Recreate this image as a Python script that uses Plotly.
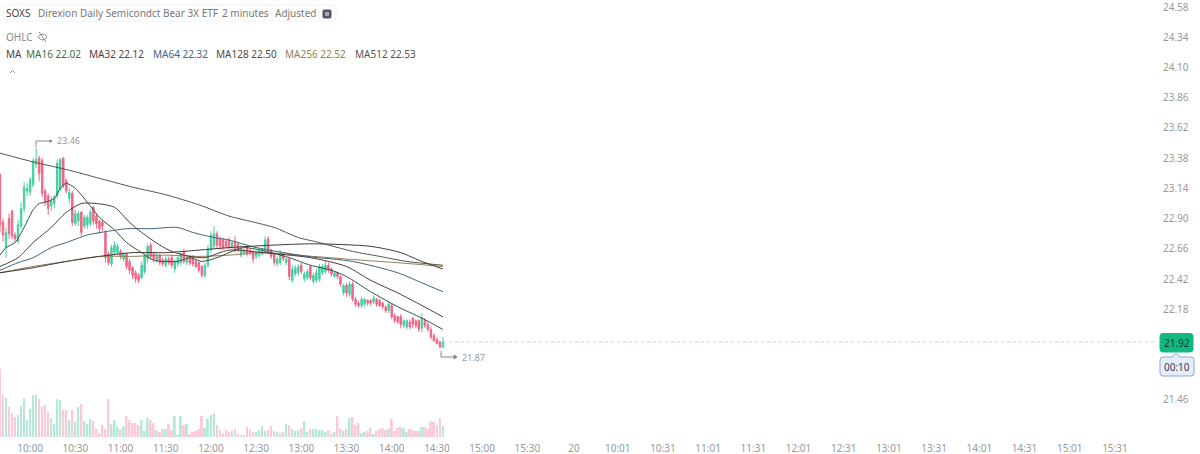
import plotly.graph_objects as go

# one row per 2 minute bar: open, high, low, close
opens = [23.25, 22.87, 22.67, 22.90, 22.96, 22.77, 22.72, 22.84, 22.98, 23.12, 23.11, 23.17, 23.33, 23.38, 23.36, 23.12, 23.08, 23.00, 23.02, 23.08,
         23.14, 23.38, 23.20, 23.06, 23.10, 22.86, 22.88, 22.95, 22.84, 22.85, 22.86, 22.99, 22.92, 22.88, 22.87, 22.79, 22.62, 22.54, 22.63, 22.63,
         22.64, 22.58, 22.62, 22.56, 22.51, 22.47, 22.45, 22.43, 22.48, 22.58, 22.69, 22.62, 22.57, 22.61, 22.57, 22.53, 22.58, 22.59, 22.50, 22.54,
         22.55, 22.64, 22.55, 22.60, 22.60, 22.56, 22.55, 22.52, 22.45, 22.53, 22.65, 22.68, 22.78, 22.74, 22.73, 22.72, 22.73, 22.67, 22.72, 22.70,
         22.61, 22.63, 22.67, 22.65, 22.63, 22.60, 22.61, 22.62, 22.65, 22.74, 22.65, 22.62, 22.54, 22.55, 22.61, 22.55, 22.58, 22.41, 22.46, 22.47,
         22.53, 22.42, 22.43, 22.52, 22.40, 22.41, 22.42, 22.47, 22.48, 22.53, 22.50, 22.44, 22.47, 22.44, 22.31, 22.37, 22.30, 22.38, 22.26, 22.23,
         22.21, 22.22, 22.25, 22.25, 22.24, 22.26, 22.25, 22.23, 22.20, 22.17, 22.21, 22.13, 22.12, 22.12, 22.05, 22.04, 22.08, 22.11, 22.09, 22.09,
         22.03, 22.09, 22.06, 22.02, 21.97, 21.94, 21.92, 21.88]
highs = [23.26, 22.90, 22.83, 22.94, 22.97, 22.79, 22.89, 23.03, 23.19, 23.18, 23.23, 23.38, 23.46, 23.40, 23.38, 23.14, 23.10, 23.08, 23.09, 23.37,
         23.38, 23.39, 23.22, 23.14, 23.12, 22.97, 22.96, 22.96, 22.93, 22.93, 22.97, 23.00, 22.94, 22.89, 22.89, 22.81, 22.64, 22.69, 22.72, 22.70,
         22.66, 22.63, 22.63, 22.58, 22.52, 22.49, 22.47, 22.56, 22.63, 22.70, 22.71, 22.64, 22.63, 22.62, 22.59, 22.60, 22.60, 22.61, 22.58, 22.60,
         22.63, 22.66, 22.60, 22.61, 22.61, 22.58, 22.56, 22.53, 22.55, 22.69, 22.80, 22.84, 22.80, 22.76, 22.75, 22.74, 22.75, 22.72, 22.76, 22.71,
         22.69, 22.66, 22.69, 22.66, 22.65, 22.65, 22.66, 22.67, 22.76, 22.76, 22.66, 22.63, 22.60, 22.65, 22.62, 22.59, 22.59, 22.53, 22.53, 22.54,
         22.55, 22.48, 22.50, 22.53, 22.47, 22.50, 22.54, 22.54, 22.56, 22.55, 22.51, 22.48, 22.48, 22.45, 22.38, 22.39, 22.40, 22.40, 22.28, 22.25,
         22.28, 22.27, 22.26, 22.26, 22.29, 22.27, 22.26, 22.24, 22.21, 22.24, 22.23, 22.15, 22.13, 22.14, 22.10, 22.10, 22.10, 22.12, 22.10, 22.10,
         22.15, 22.11, 22.08, 22.04, 21.99, 21.96, 21.93, 21.96]
lows = [22.79, 22.72, 22.59, 22.74, 22.74, 22.71, 22.70, 22.82, 22.95, 23.08, 23.08, 23.15, 23.30, 23.20, 23.07, 23.00, 22.93, 22.96, 22.98, 23.06,
        23.12, 23.14, 23.10, 23.02, 22.84, 22.84, 22.84, 22.76, 22.82, 22.82, 22.84, 22.85, 22.82, 22.78, 22.80, 22.55, 22.53, 22.52, 22.61, 22.61,
        22.58, 22.56, 22.50, 22.46, 22.42, 22.39, 22.39, 22.42, 22.46, 22.55, 22.57, 22.55, 22.55, 22.53, 22.52, 22.51, 22.53, 22.51, 22.47, 22.52,
        22.53, 22.54, 22.53, 22.53, 22.52, 22.51, 22.47, 22.43, 22.43, 22.51, 22.63, 22.66, 22.66, 22.65, 22.65, 22.66, 22.66, 22.66, 22.63, 22.63,
        22.59, 22.61, 22.60, 22.61, 22.55, 22.58, 22.59, 22.61, 22.63, 22.62, 22.58, 22.53, 22.52, 22.53, 22.56, 22.53, 22.41, 22.39, 22.44, 22.45,
        22.46, 22.40, 22.41, 22.41, 22.38, 22.39, 22.40, 22.45, 22.46, 22.47, 22.44, 22.43, 22.42, 22.36, 22.29, 22.28, 22.28, 22.24, 22.20, 22.19,
        22.19, 22.20, 22.21, 22.21, 22.22, 22.20, 22.20, 22.18, 22.15, 22.15, 22.10, 22.07, 22.06, 22.03, 22.03, 22.02, 22.02, 22.03, 22.03, 22.00,
        22.00, 22.03, 22.00, 21.94, 21.92, 21.90, 21.87, 21.87]
closes = [22.85, 22.77, 22.79, 22.78, 22.76, 22.74, 22.85, 22.98, 23.15, 23.14, 23.21, 23.36, 23.37, 23.26, 23.10, 23.03, 22.98, 23.04, 23.07, 23.34,
          23.37, 23.16, 23.12, 23.11, 22.87, 22.94, 22.94, 22.79, 22.91, 22.91, 22.95, 22.88, 22.86, 22.82, 22.84, 22.59, 22.55, 22.67, 22.69, 22.68,
          22.60, 22.62, 22.52, 22.49, 22.45, 22.42, 22.41, 22.53, 22.60, 22.68, 22.60, 22.58, 22.61, 22.55, 22.54, 22.58, 22.55, 22.53, 22.56, 22.59,
          22.62, 22.56, 22.59, 22.55, 22.54, 22.52, 22.49, 22.45, 22.53, 22.66, 22.77, 22.78, 22.69, 22.68, 22.67, 22.68, 22.68, 22.71, 22.65, 22.65,
          22.66, 22.65, 22.62, 22.63, 22.58, 22.63, 22.65, 22.66, 22.73, 22.64, 22.60, 22.55, 22.58, 22.62, 22.58, 22.58, 22.44, 22.50, 22.51, 22.52,
          22.48, 22.46, 22.48, 22.43, 22.45, 22.47, 22.52, 22.52, 22.53, 22.49, 22.46, 22.47, 22.44, 22.38, 22.37, 22.31, 22.38, 22.26, 22.22, 22.21,
          22.26, 22.26, 22.23, 22.23, 22.27, 22.22, 22.21, 22.20, 22.17, 22.22, 22.12, 22.09, 22.08, 22.06, 22.09, 22.09, 22.04, 22.06, 22.05, 22.02,
          22.11, 22.05, 22.02, 21.96, 21.93, 21.91, 21.88, 21.92]
volumes = [68, 42, 39, 30, 24, 20, 22, 31, 39, 17, 28, 42, 42, 38, 30, 32, 25, 19, 13, 38,
           37, 27, 27, 17, 27, 15, 30, 33, 16, 13, 18, 16, 8, 4, 12, 8, 38, 13, 17, 10,
           8, 11, 21, 17, 14, 14, 12, 17, 6, 19, 17, 14, 7, 5, 8, 8, 13, 7, 21, 2,
           21, 12, 13, 3, 5, 6, 8, 21, 9, 18, 22, 24, 12, 7, 4, 7, 5,
           6, 8, 3, 2, 2, 10, 7, 5, 5, 7, 11, 6, 7, 11, 6, 5, 4, 5, 13, 12,
           8, 6, 7, 9, 16, 5, 8, 8, 8, 7, 7, 5, 7, 3, 5, 21, 8, 6, 8, 19,
           20, 12, 14, 4, 5, 6, 9, 3, 6, 8, 9, 7, 8, 18, 6, 9, 10, 9, 5, 8,
           7, 6, 6, 10, 10, 8, 16, 15, 12, 19, 11]

ma16_idx = [0, 2, 5, 8, 11, 13, 15, 18, 20, 22, 25, 29, 33, 38, 42, 47, 51, 55, 59, 63, 67, 72, 76, 81, 90, 96, 103, 110, 115, 123, 132, 140, 147]
ma16 = [22.61, 22.67, 22.71, 22.83, 22.97, 23.02, 23.03, 23.06, 23.14, 23.18, 23.14, 23.03, 22.91, 22.81, 22.71, 22.63, 22.57, 22.56, 22.56, 22.59,
        22.56, 22.59, 22.63, 22.67, 22.63, 22.59, 22.53, 22.49, 22.44, 22.32, 22.20, 22.11, 22.02]
ma32_idx = [0, 6, 11, 17, 22, 27, 32, 38, 43, 47, 53, 57, 63, 68, 76, 87, 103, 115, 123, 132, 140, 147]
ma32 = [22.52, 22.59, 22.71, 22.83, 22.95, 23.02, 23.02, 22.99, 22.87, 22.79, 22.69, 22.64, 22.60, 22.59, 22.65, 22.63, 22.59, 22.52, 22.41, 22.31, 22.21, 22.12]
ma64_idx = [0, 6, 11, 17, 22, 29, 36, 42, 50, 59, 64, 71, 76, 85, 102, 117, 132, 140, 147]
ma64 = [22.49, 22.55, 22.59, 22.67, 22.71, 22.77, 22.80, 22.82, 22.82, 22.83, 22.79, 22.75, 22.73, 22.67, 22.60, 22.56, 22.47, 22.39, 22.32]
ma128_idx = [0, 11, 22, 33, 44, 55, 66, 76, 91, 104, 123, 133, 140, 147]
ma128 = [22.47, 22.51, 22.56, 22.60, 22.63, 22.63, 22.65, 22.67, 22.69, 22.70, 22.68, 22.63, 22.56, 22.50]
ma256_idx = [0, 11, 22, 33, 44, 55, 66, 76, 87, 104, 120, 132, 147]
ma256 = [22.47, 22.52, 22.56, 22.60, 22.60, 22.61, 22.60, 22.61, 22.63, 22.60, 22.57, 22.55, 22.52]
ma512_idx = [0, 11, 22, 33, 44, 55, 66, 76, 81, 91, 99, 106, 117, 126, 135, 147]
ma512 = [23.42, 23.35, 23.29, 23.22, 23.15, 23.09, 23.01, 22.92, 22.89, 22.83, 22.75, 22.71, 22.64, 22.60, 22.56, 22.53]

price_ticks = [24.58, 24.34, 24.10, 23.86, 23.62, 23.38, 23.14, 22.90, 22.66, 22.42, 22.18, 21.46]
time_ticks = [10, 25, 40, 55, 70, 85, 100, 115, 130, 145, 160, 175, 190.5, 205, 220, 235, 250, 265, 280, 295, 310, 325, 340, 355, 370]
time_labels = ['10:00', '10:30', '11:00', '11:30', '12:00', '12:30', '13:00', '13:30', '14:00', '14:30', '15:00', '15:30', '20',
               '10:01', '10:31', '11:01', '11:31', '12:01', '12:31', '13:01', '13:31', '14:01', '14:31', '15:01', '15:31']
last_price = 21.92
high_price = 23.46
low_price = 21.87

W, H = 1200, 454
PLOT_W, PLOT_H = 1155, 437
FONT = 'Noto Sans'
UP, DOWN = '#48cfa6', '#ef6786'
UP_VOL, DOWN_VOL = '#b4e8d9', '#fbcad6'


def px(x):
    return x / PLOT_W


def py(y):
    return 1 - y / PLOT_H


def label(x, y, text, color='#777777', size=10, anchor='left'):
    fig.add_annotation(x=px(x), y=py(y), xref='paper', yref='paper', text=text, showarrow=False,
                       xanchor=anchor, yanchor='middle', xshift=-1 if anchor == 'left' else 0, borderpad=0,
                       font=dict(family=FONT, size=size, color=color))


def outline(d, color, fill='rgba(0,0,0,0)', width=1):
    fig.add_shape(type='path', path=d, xref='paper', yref='paper',
                  line=dict(color=color, width=width), fillcolor=fill)


def rounded(x0, y0, x1, y1, r=3):
    return (f'M {px(x0 + r)} {py(y0)} L {px(x1 - r)} {py(y0)} Q {px(x1)} {py(y0)} {px(x1)} {py(y0 + r)} '
            f'L {px(x1)} {py(y1 - r)} Q {px(x1)} {py(y1)} {px(x1 - r)} {py(y1)} L {px(x0 + r)} {py(y1)} '
            f'Q {px(x0)} {py(y1)} {px(x0)} {py(y1 - r)} L {px(x0)} {py(y0 + r)} Q {px(x0)} {py(y0)} {px(x0 + r)} {py(y0)} Z')


bars = list(range(len(opens)))
vol_colors = [UP_VOL if c >= o else DOWN_VOL for o, c in zip(opens, closes)]

fig = go.Figure()
fig.add_trace(go.Bar(x=bars, y=volumes, marker=dict(color=vol_colors, line=dict(width=0)), width=0.62, yaxis='y2', hoverinfo='skip'))
fig.add_trace(go.Candlestick(x=bars, open=opens, high=highs, low=lows, close=closes, whiskerwidth=0, hoverinfo='skip',
                             increasing=dict(line=dict(color=UP, width=1), fillcolor=UP),
                             decreasing=dict(line=dict(color=DOWN, width=1), fillcolor=DOWN)))

# last price guide runs out to the axis
fig.add_trace(go.Scatter(x=[bars[-1], 384], y=[last_price, last_price], mode='lines', hoverinfo='skip',
                         line=dict(color='#9fe0cd', width=1, dash='dot')))

for idx, vals, color in [(ma512_idx, ma512, '#55554e'), (ma256_idx, ma256, '#937f55'), (ma128_idx, ma128, '#443a32'),
                         (ma64_idx, ma64, '#3d6277'), (ma32_idx, ma32, '#523833'), (ma16_idx, ma16, '#35523a')]:
    fig.add_trace(go.Scatter(x=idx, y=vals, mode='lines', hoverinfo='skip',
                             line=dict(color=color, width=1, shape='spline', smoothing=0.7)))

fig.update_layout(
    width=W, height=H, autosize=False, showlegend=False, plot_bgcolor='white', paper_bgcolor='white',
    margin=dict(l=0, r=W - PLOT_W, t=0, b=H - PLOT_H, pad=0),
    xaxis=dict(range=[0, 383.3], tickvals=time_ticks, ticktext=time_labels, rangeslider=dict(visible=False),
               showgrid=False, zeroline=False, showline=False, ticks='', tickangle=0, ticklabelstandoff=4,
               ticklabeloverflow='allow', tickfont=dict(family=FONT, size=10, color='#999999')),
    yaxis=dict(range=[21.166, 24.636], side='right', tickvals=price_ticks, ticktext=[f'{t:.2f}' for t in price_ticks],
               showgrid=False, zeroline=False, showline=False, ticks='outside', ticklen=5, tickcolor='rgba(0,0,0,0)',
               ticklabeloverflow='allow', tickfont=dict(family=FONT, size=10, color='#999999')),
    yaxis2=dict(domain=[0, 70 / PLOT_H], range=[0, 70], anchor='x', showgrid=False, zeroline=False, showticklabels=False, ticks=''),
)

# header strip
outline(rounded(3, 5, 336, 21), '#eff2f5')
for sep in [218, 272, 319]:
    outline(f'M {px(sep)} {py(5)} L {px(sep)} {py(21)}', '#eff2f5')
label(6, 13.5, 'SOXS', '#444444')
label(38, 13.5, 'Direxion Daily Semicondct Bear 3X ETF', '#777777')
label(222, 13.5, '2 minutes', '#777777')
label(275, 13.5, 'Adjusted', '#777777')
outline(rounded(323, 10, 331, 18, 1), '#555566', '#555566')
outline(f'M {px(325)} {py(13)} L {px(329)} {py(13)} M {px(325)} {py(15)} L {px(329)} {py(15)}', 'white')

label(6, 37, 'OHLC', '#888888')
outline(f'M {px(38)} {py(37)} Q {px(42.5)} {py(31)} {px(47)} {py(37)} Q {px(42.5)} {py(43)} {px(38)} {py(37)} Z '
        f'M {px(39)} {py(32)} L {px(46)} {py(42)}', '#888888')

label(6, 53.5, 'MA', '#444444')
for x, text, color in [(25.5, 'MA16 22.02', '#3a7046'), (89, 'MA32 22.12', '#5f3c3c'), (152.5, 'MA64 22.32', '#3b6885'),
                       (216, 'MA128 22.50', '#504b45'), (285, 'MA256 22.52', '#937f55'), (354.5, 'MA512 22.53', '#55554e')]:
    label(x, 53.5, text, color)
outline(f'M {px(10)} {py(73)} L {px(12.5)} {py(70.5)} L {px(15)} {py(73)}', '#888888')

# session high and low markers
outline(f'M {px(36)} {py(147)} L {px(36)} {py(141)} L {px(50)} {py(141)}', '#888888')
fig.add_shape(type='circle', xref='paper', yref='paper', x0=px(49), x1=px(52), y0=py(139.5), y1=py(142.5), fillcolor='#888888', line=dict(width=0))
label(57, 141, f'{high_price:.2f}', '#999999', 9)
outline(f'M {px(441)} {py(351)} L {px(441)} {py(357)} L {px(456)} {py(357)}', '#888888')
outline(f'M {px(454)} {py(355)} L {px(457)} {py(357)} L {px(454)} {py(359)} Z', '#888888', '#888888')
label(462, 357, f'{low_price:.2f}', '#999999', 9)

# last price and countdown tags on the axis
outline(rounded(1160, 333.5, 1193, 352), '#10b981', '#10b981')
label(1176.5, 343, f'{last_price:.2f}', '#123a2c', 10, 'center')
outline(f'M {px(1172)} {py(357)} L {px(1176)} {py(353.5)} L {px(1180)} {py(357)} L {px(1191)} {py(357)} Q {px(1194)} {py(357)} {px(1194)} {py(360)} '
        f'L {px(1194)} {py(373)} Q {px(1194)} {py(376)} {px(1191)} {py(376)} L {px(1163)} {py(376)} Q {px(1160)} {py(376)} {px(1160)} {py(373)} '
        f'L {px(1160)} {py(360)} Q {px(1160)} {py(357)} {px(1163)} {py(357)} Z', '#8ea6dc', '#e6eefc')
label(1177, 367, '00:10', '#2f3a4a', 10, 'center')

# drop the browser's default page margin so the figure fills the window
fig.write_html("out.html", config={'displayModeBar': False},
               post_script="document.body.style.margin='0';document.body.style.overflow='hidden';")
